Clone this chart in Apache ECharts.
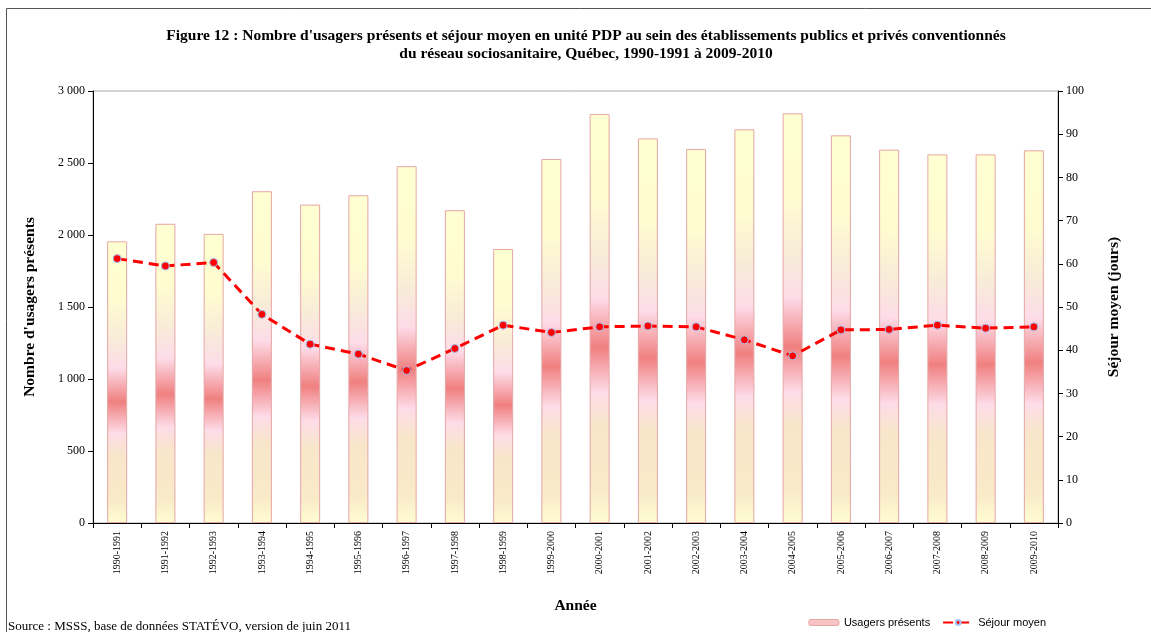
<!DOCTYPE html>
<html>
<head>
<meta charset="utf-8">
<script src="https://cdn.jsdelivr.net/npm/echarts@6/dist/echarts.min.js"></script>
<style>
  html, body { margin: 0; padding: 0; background: #fff; }
  #chart { width: 1151px; height: 632px; }
</style>
</head>
<body>
<div id="chart"></div>
<script>
const years = ['1990-1991', '1991-1992', '1992-1993', '1993-1994', '1994-1995', '1995-1996', '1996-1997',
  '1997-1998', '1998-1999', '1999-2000', '2000-2001', '2001-2002', '2002-2003', '2003-2004', '2004-2005',
  '2005-2006', '2006-2007', '2007-2008', '2008-2009', '2009-2010'];

// Nombre d'usagers présents (axe gauche)
const usagers = [1956, 2078, 2008, 2304, 2211, 2276, 2478, 2172, 1903, 2528,
  2840, 2671, 2597, 2734, 2845, 2692, 2593, 2560, 2560, 2588];

// Séjour moyen en jours (axe droit)
const sejour = [61.2, 59.5, 60.3, 48.3, 41.4, 39.1, 35.3, 40.4, 45.8, 44.1,
  45.4, 45.6, 45.4, 42.4, 38.7, 44.7, 44.8, 45.8, 45.1, 45.4];

const serif = '"Liberation Serif", "DejaVu Serif", serif';
const sans = '"Liberation Sans", Arial, sans-serif';

const barGradient = new echarts.graphic.LinearGradient(0, 0, 0, 1, [
  { offset: 0, color: '#FFFFD2' },
  { offset: 0.2, color: '#FFFDD0' },
  { offset: 0.34, color: '#F8ECD8' },
  { offset: 0.45, color: '#FDDCE8' },
  { offset: 0.57, color: '#F08080' },
  { offset: 0.68, color: '#FDDCE8' },
  { offset: 0.76, color: '#F8E6CA' },
  { offset: 0.92, color: '#F9EAC8' },
  { offset: 1, color: '#FFFDD2' }
]);

const chart = echarts.init(document.getElementById('chart'));

const nameStyle = { fontFamily: serif, fontWeight: 'bold', fontSize: 15.5, color: '#000' };

const option = {
  animation: false,
  backgroundColor: '#fff',
  title: {
    text: "Figure 12 : Nombre d'usagers présents et séjour moyen en unité PDP au sein des établissements publics et privés conventionnés\ndu réseau sociosanitaire, Québec, 1990-1991 à 2009-2010",
    left: 581,
    top: 22,
    textAlign: 'center',
    textStyle: {
      fontFamily: serif,
      fontWeight: 'bold',
      fontSize: 15.5,
      lineHeight: 18,
      color: '#000'
    }
  },
  graphic: [
    {
      type: 'rect',
      shape: { x: 6.5, y: 8.5, width: 1160, height: 640 },
      style: { fill: 'none', stroke: '#555', lineWidth: 1 }
    },
    {
      type: 'text',
      left: 8,
      top: 620,
      style: {
        text: 'Source : MSSS, base de données STATÉVO, version de juin 2011',
        font: '13px ' + serif,
        fill: '#000'
      }
    }
  ],
  legend: {
    right: 100,
    top: 612,
    itemGap: 12,
    itemWidth: 30,
    itemHeight: 6,
    textStyle: { fontFamily: sans, fontSize: 11, color: '#000' },
    data: [
      { name: 'Usagers présents', itemStyle: { color: '#F8C4C4', borderColor: '#E6A6A6', borderWidth: 1 } },
      { name: 'Séjour moyen' }
    ]
  },
  grid: {
    left: 93,
    right: 93,
    top: 91,
    bottom: 109,
    show: true,
    borderColor: '#a8a8a8',
    borderWidth: 1
  },
  xAxis: {
    type: 'category',
    data: years,
    name: 'Année',
    nameLocation: 'middle',
    nameGap: 75,
    nameTextStyle: nameStyle,
    axisLine: { lineStyle: { color: '#000', width: 1 } },
    axisTick: { show: true, length: 5, lineStyle: { color: '#000' } },
    axisLabel: {
      rotate: 90,
      margin: 8,
      fontFamily: serif,
      fontSize: 10,
      color: '#000'
    }
  },
  yAxis: [
    {
      type: 'value',
      min: 0,
      max: 3000,
      interval: 500,
      name: "Nombre d'usagers présents",
      nameLocation: 'middle',
      nameGap: 55,
      nameTextStyle: nameStyle,
      axisLine: { show: true, lineStyle: { color: '#000', width: 1 } },
      axisTick: { show: true, length: 5, lineStyle: { color: '#000' } },
      splitLine: { show: false },
      axisLabel: {
        margin: 8,
        fontFamily: serif,
        fontSize: 12,
        color: '#000',
        formatter: v => v >= 1000 ? Math.floor(v / 1000) + ' ' + String(v % 1000).padStart(3, '0') : String(v)
      }
    },
    {
      type: 'value',
      min: 0,
      max: 100,
      interval: 10,
      position: 'right',
      name: 'Séjour moyen (jours)',
      nameLocation: 'middle',
      nameGap: 48,
      nameRotate: 90,
      nameTextStyle: nameStyle,
      axisLine: { show: true, lineStyle: { color: '#000', width: 1 } },
      axisTick: { show: true, length: 5, lineStyle: { color: '#000' } },
      splitLine: { show: false },
      axisLabel: {
        margin: 8,
        fontFamily: serif,
        fontSize: 12,
        color: '#000'
      }
    }
  ],
  series: [
    {
      name: 'Usagers présents',
      type: 'bar',
      yAxisIndex: 0,
      barWidth: 20,
      data: usagers,
      itemStyle: {
        color: barGradient,
        borderColor: '#E6A6A6',
        borderWidth: 1
      }
    },
    {
      name: 'Séjour moyen',
      type: 'line',
      yAxisIndex: 1,
      data: sejour,
      symbol: 'circle',
      symbolSize: 8,
      lineStyle: { color: '#FF0000', width: 3, type: [10, 6] },
      itemStyle: { color: '#FF0000', borderColor: '#9FC5F8', borderWidth: 1 },
      z: 5
    }
  ]
};

chart.setOption(option);
</script>
</body>
</html>
